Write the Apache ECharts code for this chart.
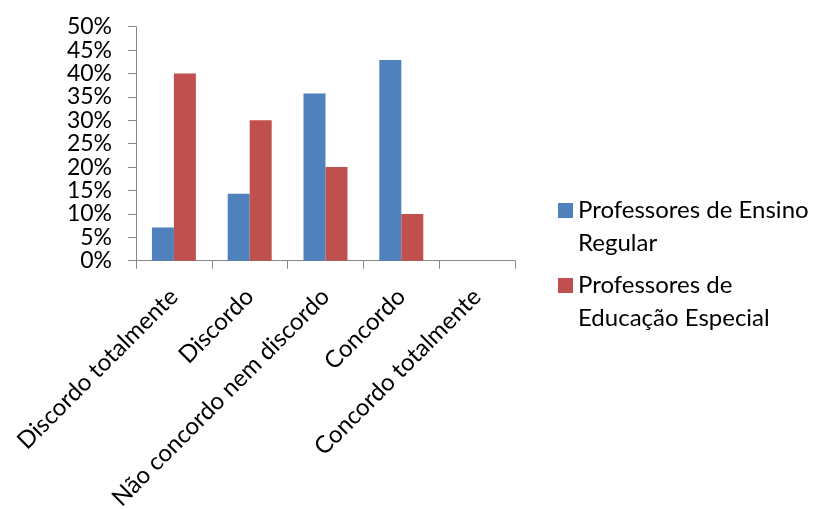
<!DOCTYPE html>
<html>
<head>
<meta charset="utf-8">
<script src="https://cdn.jsdelivr.net/npm/echarts@6/dist/echarts.min.js"></script>
<style>
  html, body { margin: 0; padding: 0; background: #ffffff; }
  #chart { width: 819px; height: 509px; }
</style>
</head>
<body>
<div id="chart"></div>
<script>
// Response categories (Likert scale)
const categories = [
  'Discordo totalmente',
  'Discordo',
  'Não concordo nem discordo',
  'Concordo',
  'Concordo totalmente'
];

// Percentage of respondents per group
const ensinoRegular = [7.1, 14.3, 35.7, 42.9, 0];
const educacaoEspecial = [40, 30, 20, 10, 0];

const seriesNames = ['Professores de Ensino Regular', 'Professores de Educação Especial'];
// Legend text broken over two lines; the leading blank line keeps the swatch beside the first line
const legendLabels = {
  'Professores de Ensino Regular': ' \nProfessores de Ensino\nRegular',
  'Professores de Educação Especial': ' \nProfessores de\nEducação Especial'
};

const yTicks = { min: 0, max: 50, interval: 5 };

const FONT = 'Lato';
const FONT_SIZE = 24;
const axisGray = '#868686';

const chart = echarts.init(document.getElementById('chart'), null, { renderer: 'canvas' });

chart.setOption({
  animation: false,
  backgroundColor: '#ffffff',
  textStyle: { fontFamily: FONT },
  grid: {
    left: 136, right: 304, top: 26.7, bottom: 248.3,
    containLabel: false,
    outerBoundsMode: 'none'
  },
  legend: {
    orient: 'vertical',
    left: 558,
    top: 161,
    padding: 0,
    itemGap: -24,
    itemWidth: 15,
    itemHeight: 15,
    icon: 'rect',
    data: seriesNames,
    formatter: name => legendLabels[name],
    textStyle: { fontFamily: FONT, fontSize: FONT_SIZE, color: '#000000', lineHeight: 33 }
  },
  xAxis: {
    type: 'category',
    data: categories,
    boundaryGap: true,
    axisLine: { show: true, lineStyle: { color: axisGray, width: 1 } },
    axisTick: { show: true, alignWithLabel: false, length: 8, lineStyle: { color: axisGray } },
    axisLabel: {
      interval: 0,
      rotate: 45,
      margin: 32,
      hideOverlap: false,
      fontFamily: FONT,
      fontSize: FONT_SIZE,
      color: '#000000'
    },
    splitLine: { show: false }
  },
  yAxis: {
    type: 'value',
    min: yTicks.min,
    max: yTicks.max,
    interval: yTicks.interval,
    axisLine: { show: true, lineStyle: { color: axisGray, width: 1 } },
    axisTick: { show: true, length: 8, lineStyle: { color: axisGray } },
    axisLabel: {
      margin: 24,
      showMinLabel: true,
      showMaxLabel: true,
      hideOverlap: false,
      formatter: '{value}%',
      fontFamily: FONT,
      fontSize: 23,
      color: '#000000'
    },
    splitLine: { show: false }
  },
  series: [
    {
      name: seriesNames[0],
      type: 'bar',
      data: ensinoRegular,
      barGap: '0%',
      barCategoryGap: '42%',
      itemStyle: { color: '#4F81BD' }
    },
    {
      name: seriesNames[1],
      type: 'bar',
      data: educacaoEspecial,
      barGap: '0%',
      barCategoryGap: '42%',
      itemStyle: { color: '#C0504D' }
    }
  ]
});
</script>
</body>
</html>
